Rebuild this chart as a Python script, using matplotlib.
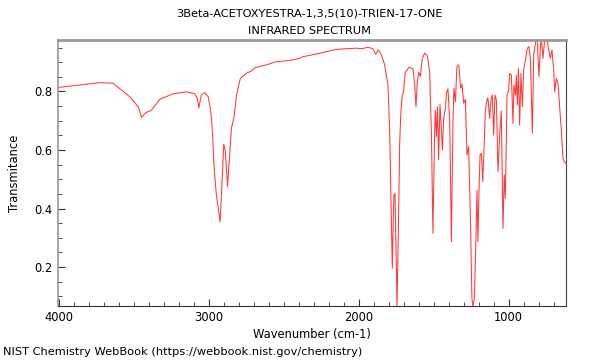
#!/usr/bin/env python

import matplotlib
matplotlib.use('Agg')
import matplotlib.pyplot as plt
from matplotlib.ticker import MultipleLocator

title_lines = ['3Beta-ACETOXYESTRA-1,3,5(10)-TRIEN-17-ONE', 'INFRARED SPECTRUM']
x_label = 'Wavenumber (cm-1)'
y_label = 'Transmitance'
footer = 'NIST Chemistry WebBook (https://webbook.nist.gov/chemistry)'

# spectrum (wavenumber, transmittance)
wavenumber = [
    4000, 3900, 3800, 3727, 3638, 3582, 3527, 3471, 3449, 3430, 3415, 3382,
    3327, 3238, 3149, 3093, 3075, 3067, 3049, 3027, 3004, 2990, 2978, 2964,
    2949, 2924, 2909, 2900, 2889, 2875, 2864, 2849, 2831, 2815, 2789, 2749,
    2716, 2693, 2615, 2549, 2460, 2398, 2371, 2282, 2149, 2015, 1982, 1938,
    1905, 1887, 1871, 1849, 1827, 1805, 1793, 1782, 1776, 1770, 1765, 1758,
    1749, 1745, 1736, 1727, 1720, 1710, 1702, 1690, 1665, 1638, 1627, 1618,
    1609, 1600, 1589, 1576, 1560, 1542, 1527, 1515, 1505, 1495, 1489, 1482,
    1475, 1467, 1458, 1449, 1442, 1433, 1422, 1415, 1405, 1393, 1382, 1371,
    1365, 1355, 1345, 1333, 1320, 1311, 1300, 1289, 1278, 1267, 1255, 1245,
    1238, 1229, 1220, 1211, 1205, 1198, 1191, 1182, 1173, 1165, 1155, 1142,
    1138, 1127, 1118, 1109, 1100, 1091, 1082, 1071, 1060, 1049, 1038, 1029,
    1022, 1011, 1000, 993, 982, 971, 965, 955, 949, 942, 935, 927,
    918, 909, 900, 887, 875, 865, 855, 842, 833, 820, 809, 798,
    787, 780, 771, 760, 744, 733, 722, 711, 700, 693, 682, 671,
    660, 649, 638, 627, 620]
transmittance = [
    0.814, 0.820, 0.826, 0.830, 0.828, 0.805, 0.782, 0.748, 0.712, 0.722, 0.729, 0.736,
    0.773, 0.792, 0.799, 0.792, 0.775, 0.743, 0.788, 0.796, 0.782, 0.745, 0.685, 0.537,
    0.446, 0.355, 0.515, 0.620, 0.594, 0.475, 0.560, 0.674, 0.714, 0.788, 0.845, 0.862,
    0.870, 0.881, 0.891, 0.902, 0.906, 0.913, 0.919, 0.928, 0.944, 0.948, 0.946, 0.951,
    0.946, 0.927, 0.942, 0.925, 0.891, 0.822, 0.651, 0.368, 0.196, 0.350, 0.446, 0.452,
    0.197, 0.060, 0.309, 0.617, 0.720, 0.788, 0.795, 0.865, 0.883, 0.877, 0.822, 0.748,
    0.834, 0.866, 0.851, 0.913, 0.931, 0.922, 0.868, 0.651, 0.315, 0.628, 0.737, 0.645,
    0.748, 0.566, 0.756, 0.674, 0.600, 0.708, 0.743, 0.794, 0.809, 0.697, 0.286, 0.708,
    0.811, 0.765, 0.885, 0.891, 0.811, 0.825, 0.760, 0.773, 0.583, 0.611, 0.367, 0.093,
    0.064, 0.093, 0.264, 0.463, 0.286, 0.457, 0.583, 0.589, 0.492, 0.594, 0.737, 0.777,
    0.777, 0.708, 0.771, 0.788, 0.651, 0.788, 0.771, 0.526, 0.651, 0.733, 0.332, 0.515,
    0.435, 0.788, 0.805, 0.862, 0.856, 0.691, 0.822, 0.788, 0.856, 0.754, 0.879, 0.685,
    0.862, 0.748, 0.874, 0.913, 0.948, 0.953, 0.913, 0.657, 0.925, 0.970, 0.972, 0.851,
    0.965, 0.970, 0.913, 0.976, 0.976, 0.942, 0.913, 0.942, 0.874, 0.799, 0.845, 0.828,
    0.748, 0.668, 0.572, 0.558, 0.555]

y_ticks = [0.2, 0.4, 0.6, 0.8]
x_ticks = [4000, 3000, 2000, 1000]


def plotSpectrum():
    fig = plt.figure(figsize=(6, 3.6), dpi=100)
    ax = fig.add_axes([0.096, 0.15, 0.8465, 0.739])
    ax.plot(wavenumber, transmittance, color='#ff3838', lw=0.75)

    ax.set_xlim(4008, 621)
    ax.set_ylim(0.067, 0.976)
    ax.set_xticks(x_ticks)
    ax.set_xticklabels([str(t) for t in x_ticks])
    ax.xaxis.set_minor_locator(MultipleLocator(100))
    ax.set_yticks(y_ticks)
    ax.set_yticklabels(['%.1f' % t for t in y_ticks])
    ax.yaxis.set_minor_locator(MultipleLocator(0.05))
    ax.tick_params(which='major', direction='in', length=5, width=0.8,
                   labelsize=8.3, color='#333333')
    ax.tick_params(which='minor', direction='in', length=3, width=0.6,
                   color='#333333')

    ax.spines['top'].set_color('#999999')
    ax.spines['top'].set_linewidth(2)
    ax.spines['left'].set_color('#999999')
    ax.spines['left'].set_linewidth(1.2)
    ax.spines['bottom'].set_color('#333333')
    ax.spines['right'].set_color('#444444')

    ax.set_xlabel(x_label, fontsize=8.3, labelpad=3)
    ax.set_ylabel(y_label, fontsize=8.3, labelpad=10)
    fig.text(0.515, 0.962, title_lines[0], ha='center', va='center', fontsize=8.2)
    fig.text(0.515, 0.915, title_lines[1], ha='center', va='center', fontsize=8.2)
    fig.text(0.005, 0.022, footer, ha='left', va='center', fontsize=8.2)

    fig.savefig('out.png', dpi=100)


def main():
    plotSpectrum()

if __name__ == "__main__":
    main()
